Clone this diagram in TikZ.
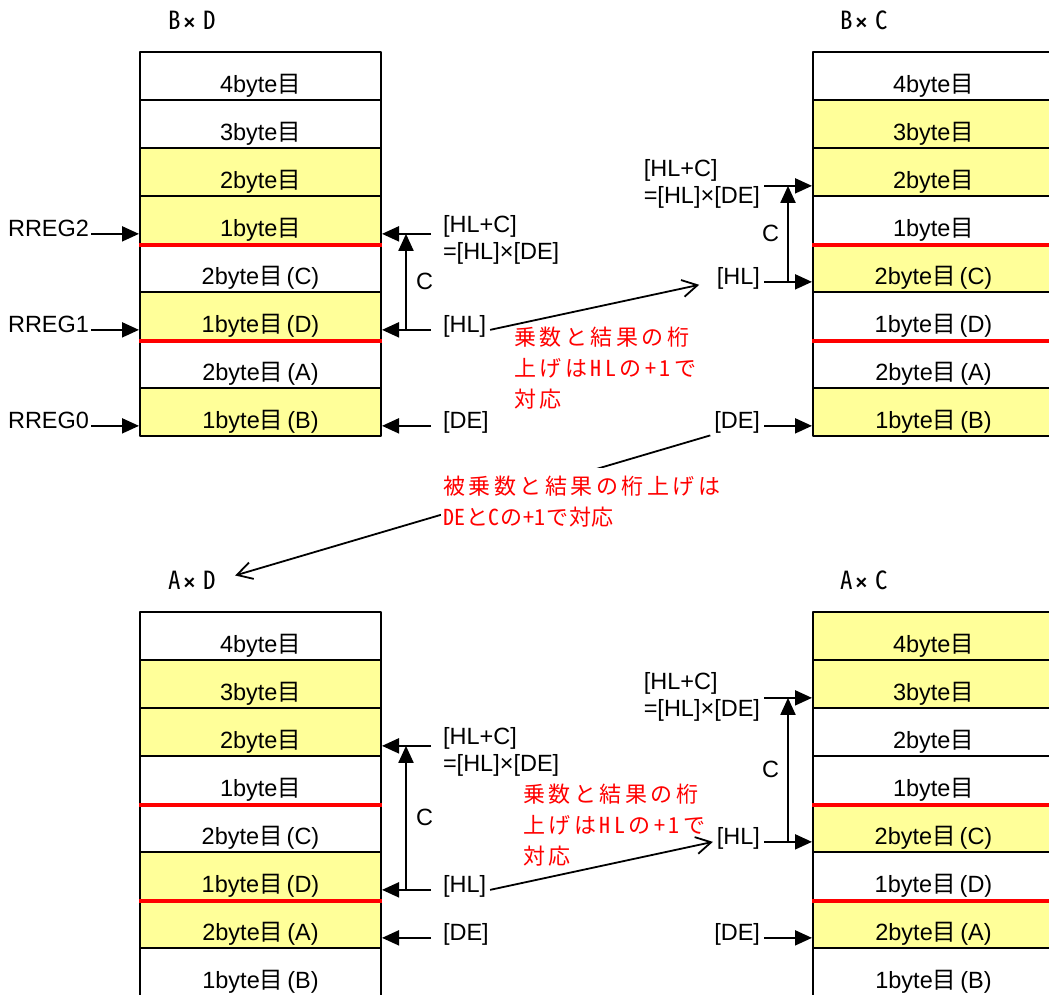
\documentclass[tikz,border=0pt]{standalone}
\usepackage{fontspec}
\setmainfont{Liberation Sans}
\newfontfamily\cj{Noto Sans CJK JP}
\newfontfamily\cjh{Noto Sans CJK JP}[RawFeature=+hwid]
\newfontfamily\cjsp{Noto Sans CJK JP}[RawFeature=+hwid,LetterSpace=16]
\newfontfamily\cjn{Noto Sans CJK JP}[RawFeature=+hwid,LetterSpace=3]
\usetikzlibrary{arrows.meta,positioning}
\definecolor{ylw}{RGB}{255,255,153}
\tikzset{
  row/.style={draw,line width=2pt,minimum width=241pt,minimum height=48pt,inner sep=0pt,
    text height=34pt,text depth=1pt,font=\fontsize{23.5}{27}\selectfont},
  redline/.style={draw=red,line width=3.6pt,line cap=butt},
  lbl/.style={font=\fontsize{23.5}{27}\selectfont,inner xsep=3pt,inner ysep=1pt,align=left},
  ttl/.style={font=\fontsize{25}{27}\selectfont\cjh,inner sep=3pt},
  note/.style={text=red,font=\fontsize{22}{31}\selectfont\cjsp,align=left,inner sep=2pt},
  diagarrow/.style={line width=1.8pt,-{Straight Barb[length=15pt,width=17pt]}}
}
\newcommand\me{{\cj 目}}
\newcommand\pr[1]{\hspace{4pt}(#1)}
\newcommand\tx{\hspace{3pt}{\normalfont\bfseries\fontsize{20}{24}\selectfont ×}\hspace{8pt}}
\newcommand\rowtext[1]{\ifcase#1\or 4byte\me\or 3byte\me\or 2byte\me\or 1byte\me%
  \or 2byte\me\pr{C}\or 1byte\me\pr{D}\or 2byte\me\pr{A}\or 1byte\me\pr{B}\fi}
\newcommand\regcol[4]{% name, left, top, fills
  \foreach \f [count=\i] in {#4}
    \node[row,fill=\f] (#1\i) at ({#2+120.5},{#3+24+48*(\i-1)}) {\rowtext{\i}};
  \draw[redline] (#14.south west) -- (#14.south east);
  \draw[redline] (#16.south west) -- (#16.south east);
}
\begin{document}
\begin{tikzpicture}[x=1pt,y=-1pt,>={Triangle[length=17pt,width=15pt]},line width=2pt,line join=round]
\useasboundingbox (0,0) rectangle (1049,994);
\clip (0,0) rectangle (1049,994);
% B x D
\regcol{bd}{140}{52}{white,white,ylw,ylw,white,ylw,white,ylw}
\node[ttl] (bdt) at (192,20) {B\tx D};
\foreach \n/\r in {2/4,1/6,0/8}{
  \node[lbl,anchor=mid east,inner xsep=1pt] (rreg\n) at ([xshift=-48pt]bd\r.mid west) {RREG\n};
  \draw[->] (rreg\n.mid east) -- (bd\r.mid west);
}
\node[lbl,anchor=north west] (bdhlc) at ([xshift=57pt,yshift=20pt]bd4.mid east) {[HL+C]\\=[HL]×[DE]};
\node[lbl,anchor=mid west] (bdhl) at ([xshift=57pt]bd6.mid east) {[HL]};
\node[lbl,anchor=mid west] (bdde) at ([xshift=57pt]bd8.mid east) {[DE]};
\foreach \r in {4,6,8}{
  \coordinate (bdq\r) at ([xshift=49pt]bd\r.mid east);
  \draw[->] (bdq\r) -- (bd\r.mid east);
}
\coordinate (bdc4) at ([xshift=24pt]bd4.mid east);
\coordinate (bdc6) at ([xshift=24pt]bd6.mid east);
\draw[->] (bdc6) -- node[lbl,right=6pt] (bdcl) {C} (bdc4);
% B x C
\regcol{bc}{813}{52}{white,ylw,ylw,white,ylw,white,white,ylw}
\node[ttl] (bct) at (864,20) {B\tx C};
\node[lbl,anchor=north east] (bchlc) at ([xshift=-48pt,yshift=28pt]bc3.mid west) {[HL+C]\\=[HL]×[DE]};
\node[lbl,anchor=mid east] (bchl) at ([xshift=-48pt]bc5.mid west) {[HL]};
\node[lbl,anchor=mid east] (bcde) at ([xshift=-48pt]bc8.mid west) {[DE]};
\coordinate (bcq3) at ([xshift=-48pt]bc3.mid west);
\draw[->] (bcq3) -- (bc3.mid west);
\draw[->] (bchl.mid east) -- (bc5.mid west);
\draw[->] (bcde.mid east) -- (bc8.mid west);
\coordinate (bcc3) at ([xshift=-24pt]bc3.mid west);
\coordinate (bcc5) at ([xshift=-24pt]bc5.mid west);
\draw[->] (bcc5) -- node[lbl,left=5pt] (bccl) {C} (bcc3);
\draw[diagarrow,shorten >=14pt] (bdhl.mid east) -- (bchl.mid west);
\node[note,anchor=north west] (nt1) at (511,324) {乗数と結果の桁\\上げはHLの+1で\\対応};
% A x D
\regcol{ad}{140}{612}{white,ylw,ylw,white,white,ylw,ylw,white}
\node[ttl] (adt) at (192,580) {A\tx D};
\node[lbl,anchor=north west] (adhlc) at ([xshift=57pt,yshift=20pt]ad3.mid east) {[HL+C]\\=[HL]×[DE]};
\node[lbl,anchor=mid west] (adhl) at ([xshift=57pt]ad6.mid east) {[HL]};
\node[lbl,anchor=mid west] (adde) at ([xshift=57pt]ad7.mid east) {[DE]};
\foreach \r in {3,6,7}{
  \coordinate (adq\r) at ([xshift=49pt]ad\r.mid east);
  \draw[->] (adq\r) -- (ad\r.mid east);
}
\coordinate (adc3) at ([xshift=24pt]ad3.mid east);
\coordinate (adc6) at ([xshift=24pt]ad6.mid east);
\draw[->] (adc6) -- node[lbl,right=6pt] (adcl) {C} (adc3);
% A x C
\regcol{ac}{813}{612}{ylw,ylw,white,white,ylw,white,ylw,white}
\node[ttl] (act) at (864,580) {A\tx C};
\node[lbl,anchor=north east] (achlc) at ([xshift=-48pt,yshift=27pt]ac2.mid west) {[HL+C]\\=[HL]×[DE]};
\node[lbl,anchor=mid east] (achl) at ([xshift=-48pt]ac5.mid west) {[HL]};
\node[lbl,anchor=mid east] (acde) at ([xshift=-48pt]ac7.mid west) {[DE]};
\coordinate (acq2) at ([xshift=-48pt]ac2.mid west);
\draw[->] (acq2) -- (ac2.mid west);
\draw[->] (achl.mid east) -- (ac5.mid west);
\draw[->] (acde.mid east) -- (ac7.mid west);
\coordinate (acc2) at ([xshift=-24pt]ac2.mid west);
\coordinate (acc5) at ([xshift=-24pt]ac5.mid west);
\draw[->] (acc5) -- node[lbl,left=5pt] (accl) {C} (acc2);
\draw[diagarrow] (adhl.mid east) -- (achl.mid west);
\node[note,anchor=north west] (nt2) at (520,781) {乗数と結果の桁\\上げはHLの+1で\\対応};
% carry into A x D
\draw[diagarrow,shorten >=16pt] (bcde.south west) -- (adt.east);
\node[note,fill=white,anchor=north west,inner ysep=8pt] (nt3) at (440,467) {被乗数と結果の桁上げは\\{\cjn DEとCの+1で対応}};
\end{tikzpicture}
\end{document}
